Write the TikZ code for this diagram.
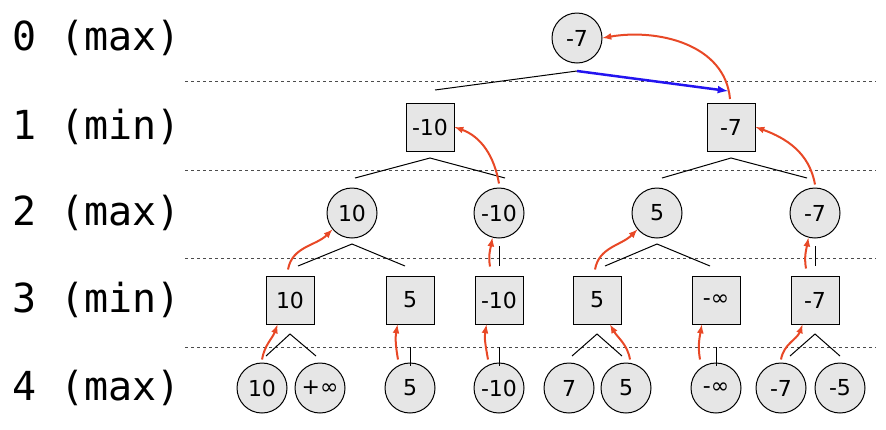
\documentclass[tikz,border=0pt]{standalone}
\usepackage{fontspec}
\setmainfont{DejaVu Sans}
\newfontfamily\monofont{DejaVu Sans Mono}
\usepackage{tikz}
\definecolor{rr}{RGB}{232, 72, 38}
\definecolor{bb}{RGB}{35, 20, 240}
\definecolor{gg}{RGB}{230, 230, 230}
\tikzset{
  mx/.style={circle, minimum size=50pt, inner sep=0pt, fill=gg, draw=black, line width=1pt, font=\fontsize{22}{24}\selectfont},
  mn/.style={rectangle, minimum size=48pt, inner sep=0pt, fill=gg, draw=black, line width=1pt, font=\fontsize{22}{24}\selectfont},
  lvl/.style={anchor=west, inner sep=0pt, font=\monofont\fontsize{40}{44}\selectfont},
  up/.style={-latex, line width=2pt, color=rr},
  br/.style={line width=1pt}
}
\begin{document}
\begin{tikzpicture}[x=1pt, y=-1pt]
\useasboundingbox (0,0) rectangle (886,429);
\node (l0) [lvl] at (12, 38) {0 (max)};
\node (l1) [lvl] at (12, 127) {1 (min)};
\node (l2) [lvl] at (12, 213) {2 (max)};
\node (l3) [lvl] at (12, 300) {3 (min)};
\node (l4) [lvl] at (12, 388) {4 (max)};
\foreach \y in {81, 170, 258, 347}
  \draw [dashed, line width=0.6pt, color=black!70] (185,\y) -- (876,\y);
% tree nodes
\node (r) [mx] at (577, 38) {-7};
\node (a) [mn] at (430, 127) {-10};
\node (b) [mn] at (731, 127) {-7};
\node (aa) [mx] at (352, 213) {10};
\node (ab) [mx] at (499, 213) {-10};
\node (ba) [mx] at (657, 213) {5};
\node (bb) [mx] at (815, 213) {-7};
\node (aaa) [mn] at (290, 300) {10};
\node (aab) [mn] at (410, 300) {5};
\node (aba) [mn] at (499, 300) {-10};
\node (baa) [mn] at (597, 300) {5};
\node (bab) [mn] at (716, 300) {-∞};
\node (bba) [mn] at (815, 300) {-7};
\node (x1) [mx] at (262, 388) {10};
\node (x2) [mx] at (320, 388) {+∞};
\node (x3) [mx] at (410, 388) {5};
\node (x4) [mx] at (499, 388) {-10};
\node (x5) [mx] at (569, 388) {7};
\node (x6) [mx] at (626, 388) {5};
\node (x7) [mx] at (716, 388) {-∞};
\node (x8) [mx] at (781, 388) {-7};
\node (x9) [mx] at (840, 388) {-5};
% branches
\coordinate (p0) at (577, 71);
\coordinate (p0l) at (435, 90);
\coordinate (p0r) at (728, 91);
\draw [br] (p0l) -- (p0);
\draw [-latex, line width=2.5pt, color=bb] (p0) -- (p0r);
\coordinate (pa) at (430, 158);
\draw [br] (355,178) -- (pa) -- (505,178);
\coordinate (pb) at (731, 158);
\draw [br] (662,178) -- (pb) -- (807,178);
\coordinate (paa) at (352, 244);
\draw [br] (298,266) -- (paa) -- (405,266);
\draw [br] (499,246) -- (499,266);
\coordinate (pba) at (657, 244);
\draw [br] (605,266) -- (pba) -- (710,266);
\draw [br] (815,246) -- (815,266);
\coordinate (paaa) at (290, 334);
\draw [br] (266,356) -- (paaa) -- (316,356);
\draw [br] (410,347) -- (410,366);
\draw [br] (499,347) -- (499,366);
\coordinate (pbaa) at (597, 334);
\draw [br] (572,356) -- (pbaa) -- (622,356);
\draw [br] (716,347) -- (716,366);
\coordinate (pbba) at (815, 334);
\draw [br] (790,356) -- (pbba) -- (840,356);
% values going up
\draw [up] (p0r) ++(2,8) to[out=95, in=10] (r.east);
\draw [up] (ab.north) ++(0,-4) to[out=100, in=-20] (a.east);
\draw [up] (bb.north) ++(0,-3) to[out=100, in=-20] (b.east);
\draw [up] (aaa.north) ++(-2,-6) to[out=80, in=225] (aa.220);
\draw [up] (aba.north) ++(-9,-9) to[out=100, in=260] (ab.255);
\draw [up] (baa.north) ++(-2,-6) to[out=80, in=225] (ba.220);
\draw [up] (bba.north) ++(-9,-7) to[out=100, in=260] (bb.255);
\draw [up] (x1.north) ++(0,-3) to[out=80, in=250] (aaa.243);
\draw [up] (x3.north) ++(-12,-3) to[out=100, in=260] (aab.243);
\draw [up] (x4.north) ++(-11,-3) to[out=100, in=260] (aba.243);
\draw [up] (x6.north) ++(4,-3) to[out=100, in=-60] (baa.-62);
\draw [up] (x7.north) ++(-16,-3) to[out=100, in=260] (bab.240);
\draw [up] (x8.north) ++(0,-3) to[out=80, in=250] (bba.243);
\end{tikzpicture}
\end{document}
